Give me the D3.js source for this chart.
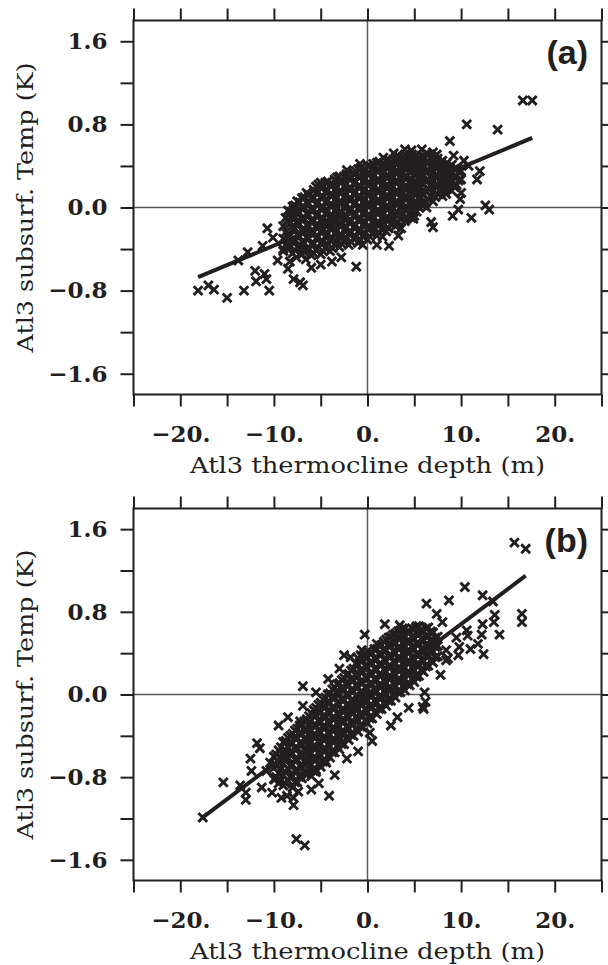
<!DOCTYPE html>
<html>
<head>
<meta charset="utf-8">
<script src="https://cdn.jsdelivr.net/npm/d3@7"></script>
<style>
  body { margin: 0; background: #fff; }
  svg { display: block; }
</style>
</head>
<body>
<div id="chart"></div>
<script>
// tick values and labels
let xTicks = [-25, -20, -15, -10, -5, 0, 5, 10, 15, 20, 25];
let xLabelled = [-20, -10, 0, 10, 20];
let yTicks = [-1.6, -1.2, -0.8, -0.4, 0, 0.4, 0.8, 1.2, 1.6];
let yLabelled = [-1.6, -0.8, 0, 0.8, 1.6];

let xTitle = "Atl3 thermocline depth (m)";
let yTitle = "Atl3 subsurf. Temp (K)";

// panel (a): thermocline depth (m), subsurface temp (K)
let pointsA = [
  // dense cloud, read column by column
  [-9.0,-0.42],[-9.0,-0.30],[-9.0,-0.18],
  [-8.5,-0.40],[-8.5,-0.27],[-8.5,-0.12],[-8.5,-0.03],
  [-8.0,-0.44],[-8.0,-0.33],[-8.0,-0.21],[-8.0,-0.09],[-8.0,0.01],
  [-7.5,-0.38],[-7.5,-0.26],[-7.5,-0.15],[-7.5,-0.04],[-7.5,0.06],
  [-7.0,-0.45],[-7.0,-0.33],[-7.0,-0.22],[-7.0,-0.11],[-7.0,0.00],[-7.0,0.09],
  [-6.5,-0.40],[-6.5,-0.29],[-6.5,-0.17],[-6.5,-0.06],[-6.5,0.05],[-6.5,0.14],
  [-6.0,-0.46],[-6.0,-0.35],[-6.0,-0.24],[-6.0,-0.13],[-6.0,-0.02],[-6.0,0.09],
  [-5.5,-0.41],[-5.5,-0.30],[-5.5,-0.19],[-5.5,-0.08],[-5.5,0.03],[-5.5,0.14],[-5.5,0.20],
  [-5.0,-0.45],[-5.0,-0.34],[-5.0,-0.23],[-5.0,-0.12],[-5.0,-0.01],[-5.0,0.10],[-5.0,0.19],
  [-4.5,-0.39],[-4.5,-0.28],[-4.5,-0.17],[-4.5,-0.06],[-4.5,0.05],[-4.5,0.15],[-4.5,0.24],
  [-4.0,-0.42],[-4.0,-0.31],[-4.0,-0.20],[-4.0,-0.09],[-4.0,0.02],[-4.0,0.12],[-4.0,0.21],
  [-3.5,-0.36],[-3.5,-0.25],[-3.5,-0.14],[-3.5,-0.03],[-3.5,0.07],[-3.5,0.17],[-3.5,0.27],
  [-3.0,-0.38],[-3.0,-0.27],[-3.0,-0.16],[-3.0,-0.05],[-3.0,0.05],[-3.0,0.15],[-3.0,0.25],
  [-2.5,-0.33],[-2.5,-0.22],[-2.5,-0.11],[-2.5,0.00],[-2.5,0.10],[-2.5,0.20],[-2.5,0.30],
  [-2.0,-0.36],[-2.0,-0.25],[-2.0,-0.14],[-2.0,-0.03],[-2.0,0.08],[-2.0,0.18],[-2.0,0.28],
  [-1.5,-0.30],[-1.5,-0.19],[-1.5,-0.08],[-1.5,0.03],[-1.5,0.13],[-1.5,0.23],[-1.5,0.33],
  [-1.0,-0.34],[-1.0,-0.23],[-1.0,-0.12],[-1.0,-0.01],[-1.0,0.10],[-1.0,0.20],[-1.0,0.30],[-1.0,0.37],
  [-0.5,-0.28],[-0.5,-0.17],[-0.5,-0.06],[-0.5,0.05],[-0.5,0.15],[-0.5,0.25],[-0.5,0.34],
  [0.0,-0.31],[0.0,-0.20],[0.0,-0.09],[0.0,0.02],[0.0,0.12],[0.0,0.22],[0.0,0.32],[0.0,0.40],
  [0.5,-0.25],[0.5,-0.14],[0.5,-0.03],[0.5,0.08],[0.5,0.18],[0.5,0.28],[0.5,0.37],
  [1.0,-0.27],[1.0,-0.16],[1.0,-0.05],[1.0,0.06],[1.0,0.16],[1.0,0.26],[1.0,0.35],[1.0,0.43],
  [1.5,-0.21],[1.5,-0.10],[1.5,0.01],[1.5,0.11],[1.5,0.21],[1.5,0.31],[1.5,0.40],
  [2.0,-0.23],[2.0,-0.12],[2.0,-0.01],[2.0,0.09],[2.0,0.19],[2.0,0.29],[2.0,0.38],[2.0,0.45],
  [2.5,-0.16],[2.5,-0.05],[2.5,0.06],[2.5,0.16],[2.5,0.26],[2.5,0.35],[2.5,0.43],
  [3.0,-0.18],[3.0,-0.07],[3.0,0.04],[3.0,0.14],[3.0,0.24],[3.0,0.33],[3.0,0.42],[3.0,0.48],
  [3.5,-0.11],[3.5,0.00],[3.5,0.10],[3.5,0.20],[3.5,0.30],[3.5,0.39],[3.5,0.46],
  [4.0,-0.13],[4.0,-0.02],[4.0,0.08],[4.0,0.18],[4.0,0.28],[4.0,0.37],[4.0,0.45],[4.0,0.51],
  [4.5,-0.06],[4.5,0.05],[4.5,0.15],[4.5,0.25],[4.5,0.34],[4.5,0.42],[4.5,0.49],
  [5.0,-0.08],[5.0,0.03],[5.0,0.13],[5.0,0.23],[5.0,0.32],[5.0,0.40],[5.0,0.48],
  [5.5,0.00],[5.5,0.10],[5.5,0.20],[5.5,0.29],[5.5,0.38],[5.5,0.46],
  [6.0,0.02],[6.0,0.12],[6.0,0.22],[6.0,0.31],[6.0,0.40],[6.0,0.49],
  [6.5,0.08],[6.5,0.18],[6.5,0.27],[6.5,0.36],[6.5,0.44],[6.5,0.51],
  [7.0,0.06],[7.0,0.16],[7.0,0.25],[7.0,0.34],[7.0,0.43],[7.0,0.48],
  [7.5,0.13],[7.5,0.22],[7.5,0.31],[7.5,0.40],[7.5,0.47],
  [8.0,0.11],[8.0,0.20],[8.0,0.29],[8.0,0.38],[8.0,0.45],
  [8.5,0.18],[8.5,0.27],[8.5,0.36],[8.5,0.43],
  [9.0,0.16],[9.0,0.25],[9.0,0.33],[9.0,0.41],
  [9.5,0.22],[9.5,0.30],[9.5,0.38],
  [10.0,0.27],[10.0,0.35],
  // cloud, in-between columns
  [-8.75,-0.36],[-8.75,-0.24],[-8.75,-0.10],
  [-8.25,-0.38],[-8.25,-0.27],[-8.25,-0.15],[-8.25,-0.04],
  [-7.75,-0.41],[-7.75,-0.32],[-7.75,-0.20],[-7.75,-0.09],[-7.75,0.02],
  [-7.25,-0.39],[-7.25,-0.28],[-7.25,-0.16],[-7.25,-0.05],[-7.25,0.05],
  [-6.75,-0.43],[-6.75,-0.34],[-6.75,-0.23],[-6.75,-0.11],[-6.75,0.00],[-6.75,0.10],
  [-6.25,-0.40],[-6.25,-0.30],[-6.25,-0.18],[-6.25,-0.07],[-6.25,0.04],[-6.25,0.12],
  [-5.75,-0.44],[-5.75,-0.35],[-5.75,-0.24],[-5.75,-0.13],[-5.75,-0.02],[-5.75,0.09],[-5.75,0.17],
  [-5.25,-0.39],[-5.25,-0.28],[-5.25,-0.17],[-5.25,-0.06],[-5.25,0.05],[-5.25,0.15],[-5.25,0.22],
  [-4.75,-0.42],[-4.75,-0.33],[-4.75,-0.22],[-4.75,-0.11],[-4.75,0.00],[-4.75,0.10],[-4.75,0.20],
  [-4.25,-0.36],[-4.25,-0.25],[-4.25,-0.14],[-4.25,-0.03],[-4.25,0.07],[-4.25,0.17],[-4.25,0.25],
  [-3.75,-0.39],[-3.75,-0.30],[-3.75,-0.19],[-3.75,-0.08],[-3.75,0.02],[-3.75,0.12],[-3.75,0.22],
  [-3.25,-0.33],[-3.25,-0.22],[-3.25,-0.11],[-3.25,0.00],[-3.25,0.10],[-3.25,0.20],[-3.25,0.29],
  [-2.75,-0.35],[-2.75,-0.27],[-2.75,-0.16],[-2.75,-0.05],[-2.75,0.05],[-2.75,0.15],[-2.75,0.25],
  [-2.25,-0.30],[-2.25,-0.19],[-2.25,-0.08],[-2.25,0.03],[-2.25,0.13],[-2.25,0.23],[-2.25,0.32],
  [-1.75,-0.33],[-1.75,-0.24],[-1.75,-0.13],[-1.75,-0.02],[-1.75,0.08],[-1.75,0.18],[-1.75,0.28],
  [-1.25,-0.28],[-1.25,-0.17],[-1.25,-0.06],[-1.25,0.05],[-1.25,0.15],[-1.25,0.25],[-1.25,0.35],
  [-0.75,-0.31],[-0.75,-0.22],[-0.75,-0.11],[-0.75,0.00],[-0.75,0.10],[-0.75,0.20],[-0.75,0.30],[-0.75,0.38],
  [-0.25,-0.25],[-0.25,-0.14],[-0.25,-0.03],[-0.25,0.08],[-0.25,0.18],[-0.25,0.28],[-0.25,0.37],
  [0.25,-0.28],[0.25,-0.19],[0.25,-0.08],[0.25,0.03],[0.25,0.13],[0.25,0.23],[0.25,0.33],[0.25,0.40],
  [0.75,-0.21],[0.75,-0.10],[0.75,0.01],[0.75,0.11],[0.75,0.21],[0.75,0.31],[0.75,0.40],
  [1.25,-0.24],[1.25,-0.15],[1.25,-0.04],[1.25,0.07],[1.25,0.17],[1.25,0.26],[1.25,0.36],[1.25,0.44],
  [1.75,-0.17],[1.75,-0.06],[1.75,0.05],[1.75,0.15],[1.75,0.25],[1.75,0.35],[1.75,0.43],
  [2.25,-0.20],[2.25,-0.11],[2.25,0.00],[2.25,0.10],[2.25,0.20],[2.25,0.30],[2.25,0.39],[2.25,0.46],
  [2.75,-0.12],[2.75,-0.01],[2.75,0.10],[2.75,0.20],[2.75,0.29],[2.75,0.38],[2.75,0.46],
  [3.25,-0.14],[3.25,-0.05],[3.25,0.05],[3.25,0.15],[3.25,0.25],[3.25,0.35],[3.25,0.43],[3.25,0.50],
  [3.75,-0.07],[3.75,0.04],[3.75,0.14],[3.75,0.24],[3.75,0.33],[3.75,0.42],[3.75,0.49],
  [4.25,-0.10],[4.25,0.00],[4.25,0.10],[4.25,0.20],[4.25,0.30],[4.25,0.39],[4.25,0.46],
  [4.75,-0.03],[4.75,0.08],[4.75,0.18],[4.75,0.27],[4.75,0.36],[4.75,0.44],[4.75,0.51],
  [5.25,-0.04],[5.25,0.05],[5.25,0.15],[5.25,0.25],[5.25,0.34],[5.25,0.43],[5.25,0.50],
  [5.75,0.04],[5.75,0.14],[5.75,0.24],[5.75,0.33],[5.75,0.42],[5.75,0.50],
  [6.25,0.05],[6.25,0.15],[6.25,0.25],[6.25,0.34],[6.25,0.43],[6.25,0.52],
  [6.75,0.11],[6.75,0.21],[6.75,0.30],[6.75,0.39],[6.75,0.47],
  [7.25,0.10],[7.25,0.20],[7.25,0.29],[7.25,0.38],[7.25,0.46],
  [7.75,0.17],[7.75,0.26],[7.75,0.35],[7.75,0.43],
  [8.25,0.15],[8.25,0.24],[8.25,0.33],[8.25,0.41],
  [8.75,0.21],[8.75,0.30],[8.75,0.39],
  [9.25,0.20],[9.25,0.29],[9.25,0.37],
  [9.75,0.26],[9.75,0.34],
  // scattered points
  [-18.1,-0.80],[-17.0,-0.75],[-16.4,-0.79],[-15.0,-0.87],[-13.2,-0.80],[-13.8,-0.51],
  [-12.8,-0.43],[-12.0,-0.61],[-11.9,-0.71],[-11.0,-0.64],[-10.8,-0.69],[-10.5,-0.80],
  [-11.2,-0.37],[-10.7,-0.20],[-10.1,-0.29],[-9.6,-0.51],[-8.5,-0.59],[-7.9,-0.69],
  [-6.9,-0.75],[-7.2,-0.72],[-7.6,-0.48],[-7.1,-0.37],[-8.0,-0.05],[-7.6,-0.14],
  [-6.3,0.12],[-7.9,-0.02],[-5.0,-0.55],[-9.0,-0.40],[-8.3,-0.52],[-6.6,-0.50],
  [-6.0,-0.58],[-3.8,-0.52],[-2.8,-0.48],[-1.2,-0.57],[-0.5,-0.36],[1.0,-0.36],
  [2.3,-0.37],[3.3,-0.27],[1.6,-0.28],[3.6,-0.20],
  [-5.0,0.24],[-3.0,0.30],[-2.2,0.36],[-1.5,0.33],[-0.8,0.42],[0.6,0.42],[1.7,0.48],
  [2.8,0.52],[4.0,0.56],[4.7,0.55],[5.8,0.56],[7.0,0.53],[7.4,0.51],[8.8,0.64],
  [10.6,0.80],[13.9,0.75],[16.6,1.03],[17.6,1.03],
  [9.7,-0.02],[9.1,-0.08],[11.1,-0.10],[12.6,0.02],[13.0,-0.02],[9.9,0.08],[10.0,0.14],
  [11.7,0.27],[12.0,0.35],[8.4,0.13],[6.3,0.00],[6.8,-0.14],[7.0,-0.19],[4.7,-0.10],
  [4.9,-0.11],[10.8,0.40],[10.3,0.45],[9.2,0.50],[9.5,0.21]
];
let fitXA = [-18.1, 17.6];
let fitYA = [-0.67, 0.67];

// panel (b)
let pointsB = [
  // dense cloud, read column by column
  [-10.0,-0.82],[-10.0,-0.71],[-10.0,-0.60],
  [-9.5,-0.86],[-9.5,-0.76],[-9.5,-0.65],[-9.5,-0.54],
  [-9.0,-0.88],[-9.0,-0.78],[-9.0,-0.67],[-9.0,-0.56],[-9.0,-0.46],
  [-8.5,-0.83],[-8.5,-0.72],[-8.5,-0.61],[-8.5,-0.51],[-8.5,-0.42],
  [-8.0,-0.90],[-8.0,-0.79],[-8.0,-0.68],[-8.0,-0.57],[-8.0,-0.47],[-8.0,-0.38],
  [-7.5,-0.85],[-7.5,-0.74],[-7.5,-0.63],[-7.5,-0.52],[-7.5,-0.42],[-7.5,-0.33],
  [-7.0,-0.81],[-7.0,-0.70],[-7.0,-0.59],[-7.0,-0.48],[-7.0,-0.38],[-7.0,-0.29],
  [-6.5,-0.77],[-6.5,-0.66],[-6.5,-0.55],[-6.5,-0.44],[-6.5,-0.34],[-6.5,-0.24],
  [-6.0,-0.79],[-6.0,-0.68],[-6.0,-0.57],[-6.0,-0.46],[-6.0,-0.35],[-6.0,-0.25],[-6.0,-0.18],
  [-5.5,-0.73],[-5.5,-0.62],[-5.5,-0.51],[-5.5,-0.40],[-5.5,-0.30],[-5.5,-0.20],[-5.5,-0.13],
  [-5.0,-0.70],[-5.0,-0.59],[-5.0,-0.48],[-5.0,-0.37],[-5.0,-0.27],[-5.0,-0.17],[-5.0,-0.08],
  [-4.5,-0.64],[-4.5,-0.53],[-4.5,-0.42],[-4.5,-0.31],[-4.5,-0.21],[-4.5,-0.11],[-4.5,-0.03],
  [-4.0,-0.61],[-4.0,-0.50],[-4.0,-0.39],[-4.0,-0.28],[-4.0,-0.18],[-4.0,-0.08],[-4.0,0.01],
  [-3.5,-0.56],[-3.5,-0.45],[-3.5,-0.34],[-3.5,-0.23],[-3.5,-0.13],[-3.5,-0.03],[-3.5,0.07],
  [-3.0,-0.53],[-3.0,-0.42],[-3.0,-0.31],[-3.0,-0.20],[-3.0,-0.10],[-3.0,0.00],[-3.0,0.11],
  [-2.5,-0.48],[-2.5,-0.37],[-2.5,-0.26],[-2.5,-0.15],[-2.5,-0.05],[-2.5,0.05],[-2.5,0.16],
  [-2.0,-0.44],[-2.0,-0.33],[-2.0,-0.22],[-2.0,-0.11],[-2.0,-0.01],[-2.0,0.09],[-2.0,0.20],
  [-1.5,-0.40],[-1.5,-0.29],[-1.5,-0.18],[-1.5,-0.07],[-1.5,0.03],[-1.5,0.14],[-1.5,0.25],
  [-1.0,-0.36],[-1.0,-0.25],[-1.0,-0.14],[-1.0,-0.03],[-1.0,0.07],[-1.0,0.18],[-1.0,0.29],[-1.0,0.35],
  [-0.5,-0.32],[-0.5,-0.21],[-0.5,-0.10],[-0.5,0.01],[-0.5,0.11],[-0.5,0.22],[-0.5,0.33],
  [0.0,-0.28],[0.0,-0.17],[0.0,-0.06],[0.0,0.05],[0.0,0.15],[0.0,0.26],[0.0,0.36],[0.0,0.42],
  [0.5,-0.23],[0.5,-0.12],[0.5,-0.01],[0.5,0.10],[0.5,0.20],[0.5,0.30],[0.5,0.40],
  [1.0,-0.19],[1.0,-0.08],[1.0,0.03],[1.0,0.14],[1.0,0.24],[1.0,0.34],[1.0,0.44],[1.0,0.49],
  [1.5,-0.14],[1.5,-0.03],[1.5,0.08],[1.5,0.19],[1.5,0.29],[1.5,0.39],[1.5,0.48],
  [2.0,-0.11],[2.0,0.00],[2.0,0.11],[2.0,0.22],[2.0,0.32],[2.0,0.43],[2.0,0.53],
  [2.5,-0.06],[2.5,0.05],[2.5,0.16],[2.5,0.27],[2.5,0.37],[2.5,0.47],[2.5,0.56],
  [3.0,-0.03],[3.0,0.08],[3.0,0.19],[3.0,0.30],[3.0,0.40],[3.0,0.50],[3.0,0.59],
  [3.5,0.02],[3.5,0.13],[3.5,0.24],[3.5,0.35],[3.5,0.45],[3.5,0.54],[3.5,0.62],
  [4.0,0.04],[4.0,0.15],[4.0,0.26],[4.0,0.37],[4.0,0.47],[4.0,0.56],[4.0,0.64],
  [4.5,0.09],[4.5,0.20],[4.5,0.31],[4.5,0.41],[4.5,0.51],[4.5,0.60],
  [5.0,0.12],[5.0,0.23],[5.0,0.34],[5.0,0.44],[5.0,0.54],[5.0,0.63],
  [5.5,0.18],[5.5,0.29],[5.5,0.39],[5.5,0.49],[5.5,0.58],[5.5,0.66],
  [6.0,0.22],[6.0,0.32],[6.0,0.42],[6.0,0.52],[6.0,0.61],
  [6.5,0.28],[6.5,0.38],[6.5,0.48],[6.5,0.57],[6.5,0.65],
  [7.0,0.31],[7.0,0.41],[7.0,0.51],[7.0,0.60],
  [7.5,0.37],[7.5,0.47],[7.5,0.56],
  // cloud, in-between columns
  [-9.75,-0.80],[-9.75,-0.69],[-9.75,-0.58],
  [-9.25,-0.83],[-9.25,-0.72],[-9.25,-0.61],[-9.25,-0.51],
  [-8.75,-0.86],[-8.75,-0.75],[-8.75,-0.64],[-8.75,-0.54],[-8.75,-0.45],
  [-8.25,-0.80],[-8.25,-0.69],[-8.25,-0.58],[-8.25,-0.48],[-8.25,-0.40],
  [-7.75,-0.85],[-7.75,-0.74],[-7.75,-0.63],[-7.75,-0.52],[-7.75,-0.42],[-7.75,-0.35],
  [-7.25,-0.80],[-7.25,-0.69],[-7.25,-0.58],[-7.25,-0.47],[-7.25,-0.37],[-7.25,-0.30],
  [-6.75,-0.76],[-6.75,-0.65],[-6.75,-0.54],[-6.75,-0.43],[-6.75,-0.33],[-6.75,-0.26],
  [-6.25,-0.73],[-6.25,-0.62],[-6.25,-0.51],[-6.25,-0.40],[-6.25,-0.30],[-6.25,-0.21],
  [-5.75,-0.74],[-5.75,-0.63],[-5.75,-0.52],[-5.75,-0.41],[-5.75,-0.30],[-5.75,-0.21],[-5.75,-0.15],
  [-5.25,-0.67],[-5.25,-0.56],[-5.25,-0.45],[-5.25,-0.35],[-5.25,-0.25],[-5.25,-0.15],[-5.25,-0.10],
  [-4.75,-0.65],[-4.75,-0.54],[-4.75,-0.43],[-4.75,-0.32],[-4.75,-0.22],[-4.75,-0.12],[-4.75,-0.05],
  [-4.25,-0.59],[-4.25,-0.48],[-4.25,-0.37],[-4.25,-0.26],[-4.25,-0.16],[-4.25,-0.07],[-4.25,0.00],
  [-3.75,-0.56],[-3.75,-0.45],[-3.75,-0.34],[-3.75,-0.23],[-3.75,-0.13],[-3.75,-0.03],[-3.75,0.05],
  [-3.25,-0.50],[-3.25,-0.39],[-3.25,-0.28],[-3.25,-0.18],[-3.25,-0.08],[-3.25,0.03],[-3.25,0.10],
  [-2.75,-0.48],[-2.75,-0.37],[-2.75,-0.26],[-2.75,-0.15],[-2.75,-0.05],[-2.75,0.05],[-2.75,0.14],
  [-2.25,-0.42],[-2.25,-0.31],[-2.25,-0.20],[-2.25,-0.10],[-2.25,0.00],[-2.25,0.11],[-2.25,0.19],
  [-1.75,-0.39],[-1.75,-0.28],[-1.75,-0.17],[-1.75,-0.06],[-1.75,0.04],[-1.75,0.14],[-1.75,0.23],
  [-1.25,-0.33],[-1.25,-0.22],[-1.25,-0.11],[-1.25,-0.01],[-1.25,0.09],[-1.25,0.20],[-1.25,0.30],
  [-0.75,-0.31],[-0.75,-0.20],[-0.75,-0.09],[-0.75,0.02],[-0.75,0.12],[-0.75,0.23],[-0.75,0.32],[-0.75,0.38],
  [-0.25,-0.25],[-0.25,-0.14],[-0.25,-0.03],[-0.25,0.07],[-0.25,0.17],[-0.25,0.28],[-0.25,0.38],
  [0.25,-0.23],[0.25,-0.12],[0.25,-0.01],[0.25,0.10],[0.25,0.20],[0.25,0.31],[0.25,0.40],
  [0.75,-0.17],[0.75,-0.06],[0.75,0.05],[0.75,0.15],[0.75,0.25],[0.75,0.35],[0.75,0.44],
  [1.25,-0.14],[1.25,-0.03],[1.25,0.08],[1.25,0.19],[1.25,0.29],[1.25,0.39],[1.25,0.47],
  [1.75,-0.08],[1.75,0.03],[1.75,0.14],[1.75,0.24],[1.75,0.34],[1.75,0.44],[1.75,0.51],
  [2.25,-0.06],[2.25,0.05],[2.25,0.16],[2.25,0.27],[2.25,0.37],[2.25,0.48],[2.25,0.55],
  [2.75,0.00],[2.75,0.11],[2.75,0.22],[2.75,0.32],[2.75,0.42],[2.75,0.52],[2.75,0.58],
  [3.25,0.02],[3.25,0.13],[3.25,0.24],[3.25,0.35],[3.25,0.45],[3.25,0.55],[3.25,0.61],
  [3.75,0.08],[3.75,0.19],[3.75,0.30],[3.75,0.40],[3.75,0.50],[3.75,0.58],[3.75,0.64],
  [4.25,0.10],[4.25,0.21],[4.25,0.32],[4.25,0.42],[4.25,0.52],[4.25,0.61],
  [4.75,0.15],[4.75,0.26],[4.75,0.36],[4.75,0.46],[4.75,0.56],[4.75,0.64],
  [5.25,0.17],[5.25,0.28],[5.25,0.39],[5.25,0.49],[5.25,0.59],[5.25,0.66],
  [5.75,0.24],[5.75,0.34],[5.75,0.44],[5.75,0.54],[5.75,0.63],
  [6.25,0.27],[6.25,0.37],[6.25,0.47],[6.25,0.56],[6.25,0.64],
  [6.75,0.33],[6.75,0.43],[6.75,0.53],[6.75,0.61],
  [7.25,0.36],[7.25,0.46],[7.25,0.55],
  // scattered points
  [-17.6,-1.19],[-15.4,-0.85],[-13.6,-0.88],[-13.0,-1.02],[-13.0,-0.95],[-11.3,-0.90],
  [-11.8,-0.47],[-12.5,-0.62],[-12.4,-0.74],[-9.9,-0.82],[-10.4,-0.66],[-7.1,-0.77],
  [-5.5,-0.75],[-4.4,-0.66],[-6.9,0.08],[-6.9,-0.11],[-7.2,-0.26],[-7.9,-1.00],
  [-7.9,-1.07],[-7.4,-0.94],[-7.6,-1.40],[-6.7,-1.46],[-4.1,-0.98],[-2.5,0.38],
  [-0.6,0.43],[-0.3,0.58],[1.85,0.68],[3.45,0.67],[5.2,0.65],[6.3,0.88],[8.7,0.91],
  [7.4,0.78],[8.0,0.70],[4.4,-0.13],[5.9,-0.12],[6.0,-0.14],[6.1,0.02],[6.2,-0.07],
  [7.8,0.19],[8.4,0.33],[0.25,-0.37],[-2.96,-0.44],[15.7,1.47],[16.9,1.41],[10.4,1.04],
  [12.3,0.96],[13.4,0.90],[13.6,0.77],[13.5,0.70],[14.1,0.58],[16.5,0.78],[16.5,0.70],
  [12.3,0.68],[12.2,0.58],[12.4,0.39],[11.8,0.49],[11.0,0.44],[10.6,0.62],[9.5,0.55],
  [9.8,0.46],[8.6,0.35],[9.7,0.38],[8.4,0.43],[10.7,0.57],
  [-11.5,-0.52],[-10.8,-0.74],[-10.2,-0.95],[-9.2,-1.00],[-8.6,-0.98],[-6.0,-0.92],
  [-5.2,-0.86],[-3.5,-0.78],[-2.2,-0.62],[-1.0,-0.55],[0.5,-0.45],[2.5,-0.30],[3.2,-0.22],
  [-9.5,-0.30],[-8.5,-0.22],[-5.5,0.02],[-4.2,0.15],[-3.0,0.25],[-1.8,0.36]
];
let fitXB = [-17.6, 16.9];
let fitYB = [-1.19, 1.15];

let width = 608;
let height = 965;
let left = 133.5;
let right = 601.5;
let ink = "#231f20";
let serif = "'DejaVu Serif', serif";

let panels = [
  { top: 20.5, bottom: 394.5, points: pointsA, fitX: fitXA, fitY: fitYA, tag: "(a)" },
  { top: 508.5, bottom: 880.5, points: pointsB, fitX: fitXB, fitY: fitYB, tag: "(b)" }
];

let svg = d3.select("#chart")
  .append("svg")
  .attr("width", width)
  .attr("height", height);

let x = d3.scaleLinear().domain([-25, 25]).range([left, right]);

panels.forEach(function(p) {
  let y = d3.scaleLinear().domain([-1.8, 1.8]).range([p.bottom, p.top]);
  let g = svg.append("g");

  // zero lines
  g.append("line")
    .attr("x1", left).attr("x2", right)
    .attr("y1", y(0)).attr("y2", y(0))
    .attr("stroke", "#5a5a5a").attr("stroke-width", 1.5);
  g.append("line")
    .attr("x1", x(0)).attr("x2", x(0))
    .attr("y1", p.top).attr("y2", p.bottom)
    .attr("stroke", "#5a5a5a").attr("stroke-width", 1.5);

  // crosses
  let s = 4.4;
  g.append("g")
    .selectAll("path")
    .data(p.points)
    .enter()
    .append("path")
    .attr("transform", function(d) { return "translate(" + x(d[0]) + "," + y(d[1]) + ")"; })
    .attr("d", "M" + (-s) + "," + (-s) + "L" + s + "," + s + "M" + (-s) + "," + s + "L" + s + "," + (-s))
    .attr("stroke", ink)
    .attr("stroke-width", 2.9)
    .attr("fill", "none");

  // regression line
  g.append("path")
    .datum(d3.zip(p.fitX, p.fitY))
    .attr("d", d3.line().x(function(d) { return x(d[0]); }).y(function(d) { return y(d[1]); }))
    .attr("stroke", ink)
    .attr("stroke-width", 4)
    .attr("fill", "none");

  // frame
  g.append("rect")
    .attr("x", left).attr("y", p.top)
    .attr("width", right - left).attr("height", p.bottom - p.top)
    .attr("fill", "none").attr("stroke", ink).attr("stroke-width", 2);

  let fmtX = function(d) { return xLabelled.indexOf(d) >= 0 ? d3.format(".0f")(d) + "." : ""; };
  let fmtY = function(d) { return yLabelled.indexOf(d) >= 0 ? d3.format(".1f")(d) : ""; };

  let axes = [
    g.append("g").attr("transform", "translate(0," + p.bottom + ")")
      .call(d3.axisBottom(x).tickValues(xTicks).tickSize(12).tickPadding(19).tickFormat(fmtX)),
    g.append("g").attr("transform", "translate(0," + p.top + ")")
      .call(d3.axisTop(x).tickValues(xTicks).tickSize(12).tickFormat("")),
    g.append("g").attr("transform", "translate(" + left + ",0)")
      .call(d3.axisLeft(y).tickValues(yTicks).tickSize(13).tickPadding(13).tickFormat(fmtY)),
    g.append("g").attr("transform", "translate(" + right + ",0)")
      .call(d3.axisRight(y).tickValues(yTicks).tickSize(13).tickFormat(""))
  ];
  axes.forEach(function(a) {
    a.select(".domain").remove();
    a.selectAll(".tick line").attr("stroke", ink).attr("stroke-width", 2);
    a.selectAll(".tick text")
      .attr("fill", ink)
      .style("font-family", serif)
      .style("font-size", "23px")
      .style("font-weight", "600");
  });

  // axis titles
  g.append("text")
    .attr("x", (left + right) / 2)
    .attr("y", p.bottom + 78)
    .attr("text-anchor", "middle")
    .attr("textLength", 355)
    .attr("lengthAdjust", "spacingAndGlyphs")
    .style("font-family", serif)
    .style("font-size", "23px")
    .attr("fill", ink)
    .text(xTitle);

  g.append("text")
    .attr("transform", "translate(33," + (p.top + p.bottom) / 2 + ") rotate(-90)")
    .attr("text-anchor", "middle")
    .attr("textLength", 290)
    .attr("lengthAdjust", "spacingAndGlyphs")
    .style("font-family", serif)
    .style("font-size", "23px")
    .attr("fill", ink)
    .text(yTitle);

  // panel tag
  g.append("text")
    .attr("x", 588)
    .attr("y", p.top + 43)
    .attr("text-anchor", "end")
    .style("font-family", "'Liberation Sans', Arial, sans-serif")
    .style("font-size", "34px")
    .style("font-weight", "bold")
    .attr("fill", ink)
    .text(p.tag);
});
</script>
</body>
</html>
